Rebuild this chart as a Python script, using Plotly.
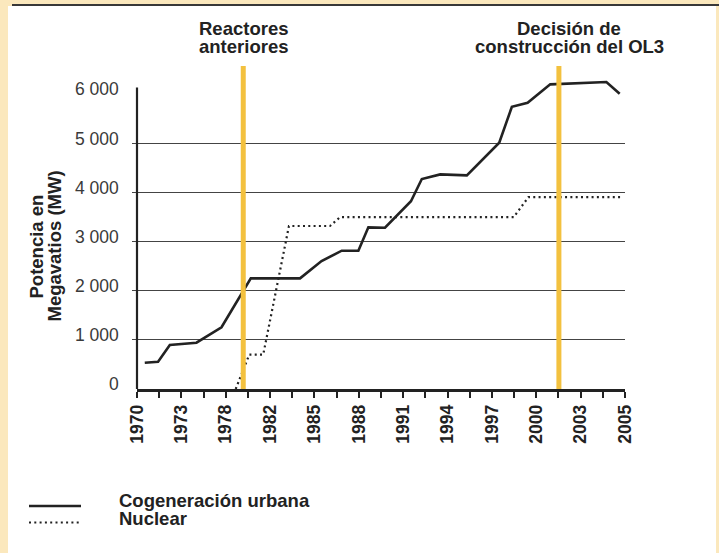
import plotly.graph_objects as go

# ---- data (x in axis-tick units: 0 = first tick, 22 = last tick) ----
tick_labels = ["1970", "1973", "1978", "1982", "1985", "1988", "1991",
               "1994", "1997", "2000", "2003", "2005"]
cog_x = [0.35, 0.95, 1.48, 2.68, 3.81, 4.71, 5.13, 7.35, 8.32, 9.23, 9.98,
         10.43, 11.18, 12.35, 12.84, 13.67, 14.87, 16.33, 16.90, 17.61,
         18.63, 21.16, 21.76]
cog_y = [536, 556, 896, 943, 1257, 1949, 2254, 2254, 2607, 2817, 2817,
         3293, 3285, 3825, 4277, 4372, 4352, 5017, 5749, 5831,
         6206, 6253, 6014]
nuc_x = [4.45, 5.06, 5.69, 6.85, 8.70, 9.15, 16.98, 17.65, 21.8]
nuc_y = [0, 700, 700, 3320, 3320, 3500, 3500, 3910, 3910]
event_x = [4.79, 19.02]
event_labels = [["Reactores", "anteriores"], ["Decisión de", "construcción del OL3"]]
y_ticks = [0, 1000, 2000, 3000, 4000, 5000, 6000]
y_tick_text = ["0", "1 000", "2 000", "3 000", "4 000", "5 000", "6 000"]
series_names = ["Cogeneración urbana", "Nuclear"]
y_title = ["Potencia en", "Megavatios (MW)"]

# ---- layout geometry ----
W_PX, H_PX = 719, 553
L, T, PW, PH = 137, 65, 488, 324
Y_MAX = 6600
FONT = "Liberation Sans, Arial, Helvetica, sans-serif"
CREAM = "#FBE8BD"
INK = "#222222"
YELLOW = "#F3C13F"


def px(xp):
    return (xp - L) / PW


def py(yp):
    return (T + PH - yp) / PH


fig = go.Figure()
fig.add_trace(go.Scatter(x=cog_x, y=cog_y, mode="lines", name=series_names[0],
                         line=dict(color=INK, width=2.6), showlegend=False,
                         hoverinfo="skip"))
fig.add_trace(go.Scatter(x=nuc_x, y=nuc_y, mode="lines", name=series_names[1],
                         line=dict(color=INK, width=2.2, dash="2px,3.3px"),
                         showlegend=False, hoverinfo="skip"))

shapes = []
# white panel
shapes.append(dict(type="rect", xref="paper", yref="paper", x0=px(8), x1=px(716),
                   y0=py(560), y1=py(6), fillcolor="white", line=dict(width=0),
                   layer="below"))
# top rule
shapes.append(dict(type="line", xref="paper", yref="paper", x0=px(12), x1=px(719),
                   y0=py(5), y1=py(5), line=dict(color="#383838", width=2)))
# y axis line
shapes.append(dict(type="line", xref="paper", yref="paper", x0=0, x1=0,
                   y0=0, y1=6144 / Y_MAX, line=dict(color=INK, width=2.2)))
# event lines
for ex in event_x:
    shapes.append(dict(type="line", xref="x", yref="y", x0=ex, x1=ex, y0=0, y1=6580,
                       line=dict(color=YELLOW, width=5), layer="above"))
# legend samples
shapes.append(dict(type="line", xref="paper", yref="paper", x0=px(29), x1=px(81),
                   y0=py(506), y1=py(506), line=dict(color=INK, width=2.6)))
shapes.append(dict(type="line", xref="paper", yref="paper", x0=px(29), x1=px(81),
                   y0=py(522.5), y1=py(522.5),
                   line=dict(color=INK, width=2.2, dash="2px,3.3px")))

ann = []
# event headers
head_cx = [243, 569]
for cx, lines in zip(head_cx, event_labels):
    for i, t in enumerate(lines):
        ann.append(dict(xref="paper", yref="paper", x=px(cx), y=py(29 + 17.5 * i),
                        text="<b>" + t + "</b>", showarrow=False, xanchor="center",
                        yanchor="middle", font=dict(family=FONT, size=18.5, color=INK)))
# y tick labels
for v, t in zip(y_ticks, y_tick_text):
    ann.append(dict(xref="paper", yref="y", x=px(121), y=v, text=t, showarrow=False,
                    xanchor="right", yanchor="middle", yshift=5,
                    font=dict(family=FONT, size=17.5, color="#3a3a3a")))
# y title
for cx, t in zip([36, 54], y_title):
    ann.append(dict(xref="paper", yref="paper", x=px(cx), y=py(246.5),
                    text="<b>" + t + "</b>", showarrow=False, textangle=-90,
                    xanchor="center", yanchor="middle",
                    font=dict(family=FONT, size=18.5, color=INK)))
# legend text
for cy, t in zip([500, 518], series_names):
    ann.append(dict(xref="paper", yref="paper", x=px(117), y=py(cy),
                    text="<b>" + t + "</b>", showarrow=False, xanchor="left",
                    yanchor="middle", font=dict(family=FONT, size=18.5, color=INK)))

fig.update_layout(
    width=W_PX, height=H_PX,
    margin=dict(l=L, r=W_PX - L - PW, t=T, b=H_PX - T - PH, pad=0),
    paper_bgcolor=CREAM, plot_bgcolor="white",
    shapes=shapes, annotations=ann, showlegend=False,
    xaxis=dict(range=[0, 22], showgrid=False, zeroline=False,
               showline=True, linecolor=INK, linewidth=2.6,
               ticks="outside", ticklen=6, tickwidth=2, tickcolor=INK,
               tickmode="array", tickvals=list(range(0, 23, 2)),
               ticktext=["<b>" + t + "</b>" for t in tick_labels],
               tickangle=-90, tickfont=dict(family=FONT, size=17.5, color=INK),
               ticklabelstandoff=0,
               minor=dict(tickmode="array", tickvals=list(range(1, 22, 2)),
                          ticks="outside", ticklen=6, tickwidth=2, tickcolor=INK,
                          showgrid=False),
               fixedrange=True),
    yaxis=dict(range=[0, Y_MAX], showline=False, zeroline=False,
               tickmode="array", tickvals=[1000, 2000, 3000, 4000, 5000],
               showticklabels=False, ticks="outside", ticklen=4, tickwidth=1.3,
               tickcolor="#444444", showgrid=True, gridcolor="#444444",
               gridwidth=1.3, fixedrange=True),
)

fig.write_html("out.html", config={"displayModeBar": False},
               post_script="document.body.style.margin='0';"
                           "document.body.style.background='" + CREAM + "';")
